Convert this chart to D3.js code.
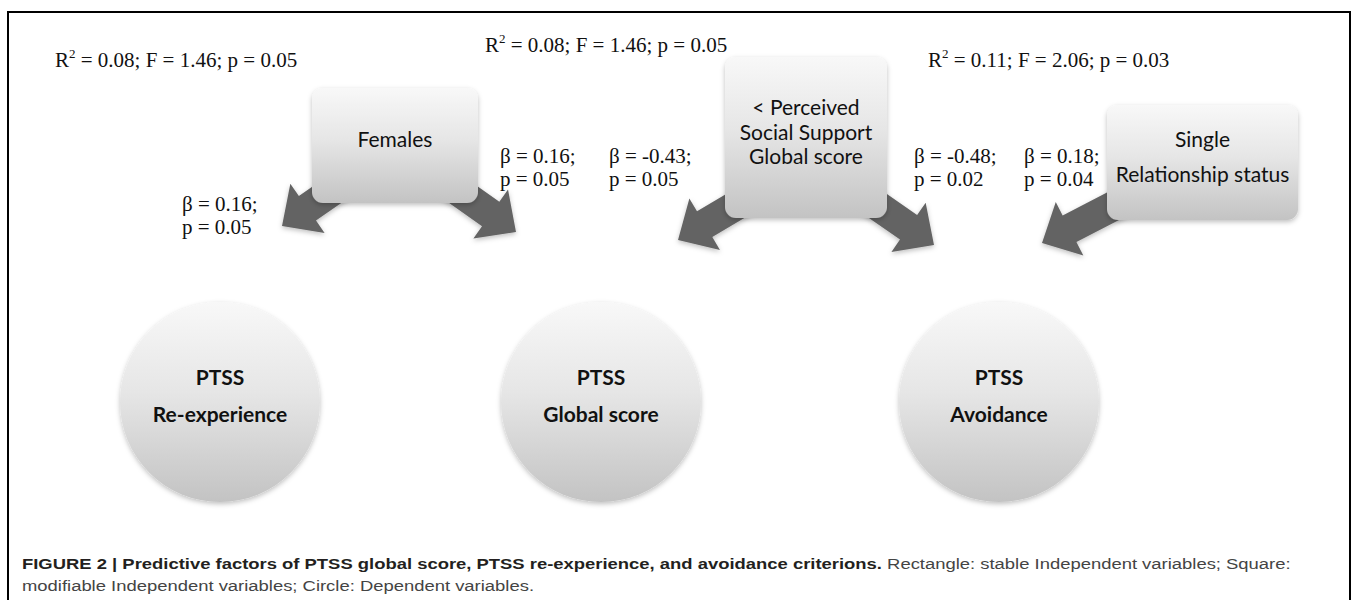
<!DOCTYPE html>
<html>
<head>
<meta charset="utf-8">
<script src="https://cdn.jsdelivr.net/npm/d3@7"></script>
<style>
  body { margin: 0; background: #fff; }
  svg { display: block; }
</style>
</head>
<body>
<div id="figure"></div>
<script>
// model fit for each outcome
const outcomes = [["PTSS", "Re-experience"], ["PTSS", "Global score"], ["PTSS", "Avoidance"]];
const modelR2 = ["0.08", "0.08", "0.11"];
const modelF = ["1.46", "1.46", "2.06"];
const modelP = ["0.05", "0.05", "0.03"];

// predictors and paths
const predictors = [["Females"], ["< Perceived", "Social Support", "Global score"], ["Single", "Relationship status"]];
const pathBeta = ["0.16", "0.16", "-0.43", "-0.48", "0.18"];
const pathP = ["0.05", "0.05", "0.05", "0.02", "0.04"];

// layout (positions only)
const outcomeX = [220, 601, 999];
const outcomeY = 402;
const boxes = [
    { x: 312, y: 88, w: 166, h: 115 },
    { x: 725, y: 57, w: 162, h: 161 },
    { x: 1107, y: 105, w: 191, h: 115 }
];
const fitPos = [[55, 67], [485, 52], [928, 67]];
const arrows = [
    { tip: [282, 226], dir: [-0.82, 0.57] },
    { tip: [516, 232], dir: [0.82, 0.58] },
    { tip: [678, 240], dir: [-0.86, 0.51] },
    { tip: [934, 245], dir: [0.82, 0.57] },
    { tip: [1042, 243], dir: [-0.89, 0.46] }
];
const pathLabelPos = [[182, 211], [500, 163], [609, 163], [914, 163], [1024, 163]];

const width = 1357, height = 600;

const svg = d3.select("#figure")
    .append("svg")
    .attr("width", width)
    .attr("height", height);

const defs = svg.append("defs");
const grad = defs.append("linearGradient")
    .attr("id", "shade").attr("x1", 0).attr("y1", 0).attr("x2", 0).attr("y2", 1);
grad.append("stop").attr("offset", "0%").attr("stop-color", "#f8f8f8");
grad.append("stop").attr("offset", "45%").attr("stop-color", "#e6e6e6");
grad.append("stop").attr("offset", "100%").attr("stop-color", "#c3c3c3");

const shadow = defs.append("filter").attr("id", "shadow")
    .attr("x", "-20%").attr("y", "-20%").attr("width", "140%").attr("height", "140%");
shadow.append("feDropShadow")
    .attr("dx", 0).attr("dy", 2).attr("stdDeviation", 2.5)
    .attr("flood-color", "#000").attr("flood-opacity", 0.25);

// frame
svg.append("rect")
    .attr("x", 8).attr("y", 12)
    .attr("width", 1342).attr("height", 620)
    .attr("fill", "none")
    .attr("stroke", "#000")
    .attr("stroke-width", 2);

// block arrows, drawn under the boxes
function arrowPath(a) {
    const len = 115, shaft = 30, headW = 60, headL = 31;
    const [tx, ty] = a.tip;
    const [dx, dy] = a.dir;
    const n = Math.hypot(dx, dy);
    const ux = dx / n, uy = dy / n;
    const px = -uy, py = ux;
    const bx = tx - ux * headL, by = ty - uy * headL;
    const sx = tx - ux * len, sy = ty - uy * len;
    const pts = [
        [sx + px * shaft / 2, sy + py * shaft / 2],
        [bx + px * shaft / 2, by + py * shaft / 2],
        [bx + px * headW / 2, by + py * headW / 2],
        [tx, ty],
        [bx - px * headW / 2, by - py * headW / 2],
        [bx - px * shaft / 2, by - py * shaft / 2],
        [sx - px * shaft / 2, sy - py * shaft / 2]
    ];
    return d3.line()(pts) + "Z";
}

svg.append("g")
    .selectAll("path")
    .data(arrows)
    .enter()
    .append("path")
        .attr("d", arrowPath)
        .attr("fill", "#646464")
        .attr("filter", "url(#shadow)");

// predictor boxes
const boxG = svg.append("g")
    .selectAll("g")
    .data(predictors)
    .enter()
    .append("g");

boxG.append("rect")
    .attr("x", (_, i) => boxes[i].x)
    .attr("y", (_, i) => boxes[i].y)
    .attr("width", (_, i) => boxes[i].w)
    .attr("height", (_, i) => boxes[i].h)
    .attr("rx", 11)
    .attr("fill", "url(#shade)")
    .attr("filter", "url(#shadow)");

const boxLineY = [[147], [115, 140, 164], [147, 182]];
boxG.each(function(lines, i) {
    d3.select(this).selectAll("text")
        .data(lines)
        .enter()
        .append("text")
            .attr("x", boxes[i].x + boxes[i].w / 2)
            .attr("y", (_, j) => boxLineY[i][j])
            .attr("text-anchor", "middle")
            .attr("font-family", "Lato, 'Open Sans', sans-serif")
            .attr("font-size", 21)
            .attr("fill", "#111")
            .text(d => d);
});

// outcome circles
const circG = svg.append("g")
    .selectAll("g")
    .data(outcomes)
    .enter()
    .append("g");

circG.append("circle")
    .attr("cx", (_, i) => outcomeX[i])
    .attr("cy", outcomeY)
    .attr("r", 100)
    .attr("fill", "url(#shade)")
    .attr("filter", "url(#shadow)");

circG.each(function(lines, i) {
    d3.select(this).selectAll("text")
        .data(lines)
        .enter()
        .append("text")
            .attr("x", outcomeX[i])
            .attr("y", (_, j) => outcomeY - 17 + j * 37)
            .attr("text-anchor", "middle")
            .attr("font-family", "Lato, 'Open Sans', sans-serif")
            .attr("font-weight", "bold")
            .attr("font-size", 21)
            .attr("fill", "#111")
            .text(d => d);
});

// model fit labels
const fit = svg.append("g")
    .selectAll("text")
    .data(modelR2)
    .enter()
    .append("text")
        .attr("x", (_, i) => fitPos[i][0])
        .attr("y", (_, i) => fitPos[i][1])
        .attr("font-family", "'Liberation Serif', 'Times New Roman', serif")
        .attr("font-size", 21)
        .attr("fill", "#111");
fit.append("tspan").text("R");
fit.append("tspan").attr("font-size", 13).attr("dy", -9).text("2");
fit.append("tspan").attr("dy", 9).text((d, i) => " = " + d + "; F = " + modelF[i] + "; p = " + modelP[i]);

// path coefficient labels
const pl = svg.append("g")
    .selectAll("text")
    .data(pathBeta)
    .enter()
    .append("text")
        .attr("font-family", "'Liberation Serif', 'Times New Roman', serif")
        .attr("font-size", 21)
        .attr("fill", "#111");
pl.append("tspan")
    .attr("x", (_, i) => pathLabelPos[i][0])
    .attr("y", (_, i) => pathLabelPos[i][1])
    .text(d => "\u03b2 = " + d + ";");
pl.append("tspan")
    .attr("x", (_, i) => pathLabelPos[i][0])
    .attr("y", (_, i) => pathLabelPos[i][1] + 23)
    .text((_, i) => "p = " + pathP[i]);

// caption
const cap1 = svg.append("text")
    .attr("x", 22).attr("y", 569)
    .attr("font-family", "'Liberation Sans', Arial, sans-serif")
    .attr("font-size", 15.5);
cap1.append("tspan")
    .attr("font-weight", "bold").attr("fill", "#231f20")
    .text("FIGURE 2 | Predictive factors of PTSS global score, PTSS re-experience, and avoidance criterions.");
cap1.append("tspan")
    .attr("fill", "#444")
    .text(" Rectangle: stable Independent variables; Square:");

const cap2 = svg.append("text")
    .attr("x", 22).attr("y", 591)
    .attr("font-family", "'Liberation Sans', Arial, sans-serif")
    .attr("font-size", 15.5)
    .attr("fill", "#444")
    .text("modifiable Independent variables; Circle: Dependent variables.");

// squeeze caption to the printed width
const w1 = cap1.node().getComputedTextLength();
const sx = (1292 - 22) / w1;
cap1.attr("transform", `translate(22,0) scale(${sx},1) translate(-22,0)`);
cap2.attr("transform", `translate(22,0) scale(${sx},1) translate(-22,0)`);
</script>
</body>
</html>
